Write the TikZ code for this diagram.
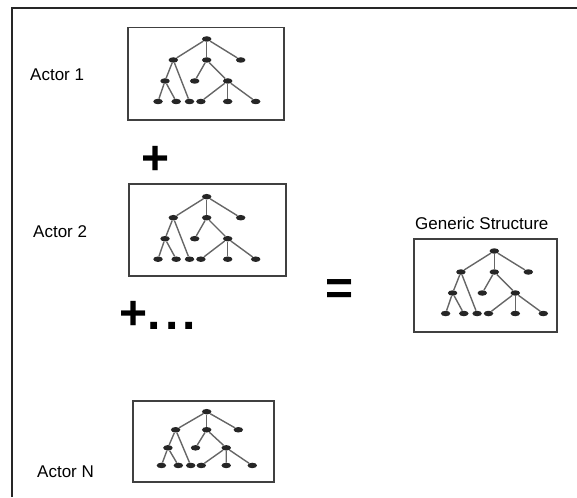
\documentclass[tikz,border=0pt]{standalone}
\usepackage{fontspec}
\setmainfont{Liberation Sans}
\usetikzlibrary{shapes.geometric}
\begin{document}
\begin{tikzpicture}[x=1pt,y=-1pt,
  frame/.style={draw=black!85,line width=1.2pt},
  boxst/.style={draw=black!75,line width=1.6pt,inner sep=0,anchor=north west},
  lbl/.style={font=\fontsize{17}{20}\selectfont,anchor=base west,inner sep=0},
  sign/.style={font=\fontsize{48}{50}\selectfont\bfseries,inner sep=0},
  tn/.style={ellipse,fill=black!85,minimum width=9.5pt,minimum height=5.5pt,inner sep=0},
  te/.style={draw=black!60,line width=1.4pt},
  tree/.pic={
    \node[tn] (r) at (0,0) {};
    \node[tn] (a) at (-33.4,21) {};
    \node[tn] (b) at (0,21) {};
    \node[tn] (c) at (34,21) {};
    \node[tn] (d) at (-41.7,42) {};
    \node[tn] (e) at (-12,42) {};
    \node[tn] (f) at (21,42) {};
    \node[tn] (l1) at (-48.7,62.5) {};
    \node[tn] (l2) at (-30.5,62.5) {};
    \node[tn] (l3) at (-17.2,62.5) {};
    \node[tn] (l4) at (-5.8,62.5) {};
    \node[tn] (l5) at (21,62.5) {};
    \node[tn] (l6) at (49,62.5) {};
    \draw[te] (r) -- (a);
    \draw[te] (r) -- (b);
    \draw[te] (r) -- (c);
    \draw[te] (a) -- (d);
    \draw[te] (a) -- (l3);
    \draw[te] (d) -- (l1);
    \draw[te] (d) -- (l2);
    \draw[te] (b) -- (e);
    \draw[te] (b) -- (f);
    \draw[te] (f) -- (l4);
    \draw[te] (f) -- (l5);
    \draw[te] (f) -- (l6);
  }
]
\useasboundingbox (0,0) rectangle (577,497);
\draw[frame] (12,497) -- (12,8) -- (577,8);

\node[boxst,minimum width=156pt,minimum height=92.3pt] (b1) at (127.3,26.7) {};
\node[boxst,minimum width=156.7pt,minimum height=91.7pt] (b2) at (128.3,183.3) {};
\node[boxst,minimum width=143pt,minimum height=92.7pt] (bg) at (413.3,238.3) {};
\node[boxst,minimum width=141pt,minimum height=81pt] (bn) at (132.3,400) {};

\pic (t1) at (206.7,39) {tree};
\pic (t2) at (206.7,196.7) {tree};
\pic (tg) at (494.3,251) {tree};
\pic[xscale=0.93,yscale=0.86] (tN) at (206.7,411.7) {tree};

\node[lbl] (a1) at (30,81) {Actor 1};
\node[lbl] (a2) at (33,237) {Actor 2};
\node[lbl] (aN) at (37,477) {Actor N};
\node[lbl] (gs) at (415,229) {Generic Structure};

\node[sign,anchor=base] (p1) at (156,174) {+};
\node[sign,anchor=base west] (p2) at (119.5,329) {+.\hspace{4pt}.\hspace{4pt}.};
\node[sign,anchor=base] (eq) at (340,304.5) {=};
\end{tikzpicture}
\end{document}
